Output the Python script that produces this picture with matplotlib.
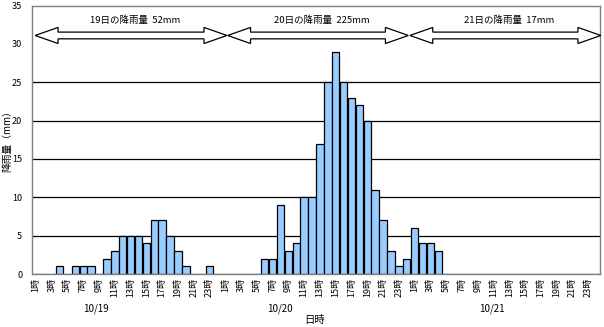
import numpy as np
import matplotlib
matplotlib.use('Agg')
import matplotlib.pyplot as plt
from matplotlib.patches import Polygon
import matplotlib.transforms as mtransforms

plt.rcParams['font.family'] = ['Noto Sans CJK JP', 'DejaVu Sans']

# 時間雨量 (mm) 10/19 1時 ～ 10/21 24時
rain_1019 = [0, 0, 0, 1, 0, 1, 1, 1, 0, 2, 3, 5, 5, 5, 4, 7, 7, 5, 3, 1, 0, 0, 1, 0]
rain_1020 = [0, 0, 0, 0, 0, 2, 2, 9, 3, 4, 10, 10, 17, 25, 29, 25, 23, 22, 20, 11, 7, 3, 1, 2]
rain_1021 = [6, 4, 4, 3, 0, 0, 0, 0, 0, 0, 0, 0, 0, 0, 0, 0, 0, 0, 0, 0, 0, 0, 0, 0]

days = [19, 20, 21]
date_labels = ['10/19', '10/20', '10/21']
hour_labels = [f'{h}時' for h in range(1, 25, 2)]

rain = np.array(rain_1019 + rain_1020 + rain_1021)
x = np.arange(len(rain))

fig = plt.figure(figsize=(6.04, 3.27), dpi=100)
ax = fig.add_axes([0.053, 0.162, 0.9404, 0.821])

# 目盛線 (30 は矢印と重なるので引かない)
for v in range(5, 30, 5):
    ax.axhline(v, color='black', linewidth=0.9, zorder=1)

ax.bar(x, rain, width=0.95, color='#99CCFF', edgecolor='black',
       linewidth=0.9, zorder=2)

ax.set_xlim(-0.5, len(rain) - 0.5)
ax.set_ylim(0, 35)
ax.set_yticks(range(0, 36, 5))
ax.tick_params(axis='y', length=0, pad=7, labelsize=6.5)
ax.set_xticks(x[::2])
ax.set_xticklabels(hour_labels * 3, rotation=90, fontsize=6.5)
ax.tick_params(axis='x', length=0, pad=3)
for s in ax.spines.values():
    s.set_color('#808080')
    s.set_linewidth(1.0)

# 日ごとの降雨量を示す両矢印
spans = [(-0.1, 24.2), (24.3, 47.2), (47.4, 71.6)]
yc, sh, hh, hl = 31.1, 0.44, 1.05, 2.9
for (x0, x1), d, vals in zip(spans, days,
                              [rain_1019, rain_1020, rain_1021]):
    pts = [(x0, yc), (x0 + hl, yc + hh), (x0 + hl, yc + sh),
           (x1 - hl, yc + sh), (x1 - hl, yc + hh), (x1, yc),
           (x1 - hl, yc - hh), (x1 - hl, yc - sh), (x0 + hl, yc - sh),
           (x0 + hl, yc - hh)]
    ax.add_patch(Polygon(pts, closed=True, facecolor='white',
                         edgecolor='black', linewidth=0.9, zorder=3,
                         clip_on=False))
    ax.text((x0 + x1) / 2 + 0.5, 33.1, f'{d}日の降雨量  {sum(vals)}mm',
            ha='center', va='center', fontsize=6.8, zorder=4)

# 日付ラベル
trans = mtransforms.blended_transform_factory(ax.transData, fig.transFigure)
for xp, lab in zip([7.6, 30.9, 57.8], date_labels):
    ax.text(xp, 0.055, lab, transform=trans, ha='center', va='center',
            fontsize=7)

fig.text(0.5215, 0.021, '日時', ha='center', va='center', fontsize=7.5)
fig.text(0.012, 0.575, '降雨量（mm）', rotation=90, ha='center', va='center',
         fontsize=7)

fig.savefig('out.png', dpi=100)
